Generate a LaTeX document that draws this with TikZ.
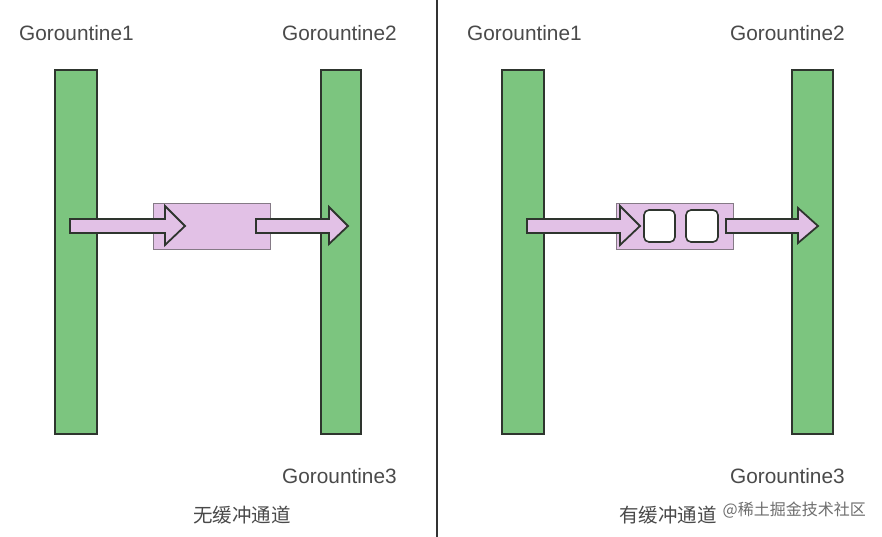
\documentclass[tikz,border=0pt]{standalone}
\usepackage{fontspec}
\setmainfont{Liberation Sans}
\newfontfamily\cjk{Noto Sans CJK SC}
\definecolor{bargreen}{HTML}{7CC57F}
\definecolor{barline}{HTML}{2E352E}
\definecolor{chanpink}{HTML}{E2C1E6}
\definecolor{chanline}{HTML}{857A86}
\definecolor{txtgray}{HTML}{4A4A4A}
\tikzset{
  gbar/.style={draw=barline, fill=bargreen, line width=1.6pt},
  chanbox/.style={draw=chanline, fill=chanpink, line width=1pt},
  fatarrow/.style={draw=barline, fill=chanpink, line width=1.8pt, line join=miter},
  slot/.style={draw=barline, fill=white, line width=1.6pt, rounded corners=5pt},
  glabel/.style={anchor=west, inner sep=0pt, text=txtgray, font=\fontsize{20.8}{24}\selectfont},
  clabel/.style={inner sep=0pt, text=txtgray, font=\cjk\fontsize{19.5}{23}\selectfont},
  wmark/.style={inner sep=0pt, text=txtgray!80, font=\cjk\fontsize{16}{19}\selectfont},
}
\begin{document}
\begin{tikzpicture}[x=1pt,y=-1pt]
\useasboundingbox[fill=white] (0,0) rectangle (882,537);
% divider
\draw[line width=2pt, draw=black!80] (437,0) -- (437,537);

% ---------- left panel ----------
\node[glabel] (l1) at (19,33) {Gorountine1};
\node[glabel] (l2) at (282,33) {Gorountine2};
\node[glabel] (l3) at (282,476) {Gorountine3};
\node[clabel] (lc) at (242,515) {无缓冲通道};
\draw[gbar] (55,70) rectangle (97,434);
\draw[gbar] (321,70) rectangle (361,434);
\draw[chanbox] (153,204) rectangle (270,249);
\draw[fatarrow] (70,219) -- (165,219) -- (165,206) -- (185,226) -- (165,245) -- (165,233) -- (70,233) -- cycle;
\draw[fatarrow] (256,219) -- (329,219) -- (329,207) -- (348,226) -- (329,244) -- (329,233) -- (256,233) -- cycle;

% ---------- right panel ----------
\node[glabel] (r1) at (467,33) {Gorountine1};
\node[glabel] (r2) at (730,33) {Gorountine2};
\node[glabel] (r3) at (730,476) {Gorountine3};
\node[clabel] (rc) at (668,515) {有缓冲通道};
\draw[gbar] (502,70) rectangle (544,434);
\draw[gbar] (792,70) rectangle (833,434);
\draw[chanbox] (616,204) rectangle (733,249);
\draw[fatarrow] (527,219) -- (620,219) -- (620,206) -- (640,226) -- (620,245) -- (620,233) -- (527,233) -- cycle;
\draw[slot] (644,210) rectangle (675,242);
\draw[slot] (686,210) rectangle (718,242);
\draw[fatarrow] (726,219) -- (798,219) -- (798,208) -- (818,226) -- (798,243) -- (798,233) -- (726,233) -- cycle;

% watermark
\node[wmark, anchor=east] (wm) at (866,510) {@稀土掘金技术社区};
\end{tikzpicture}
\end{document}
